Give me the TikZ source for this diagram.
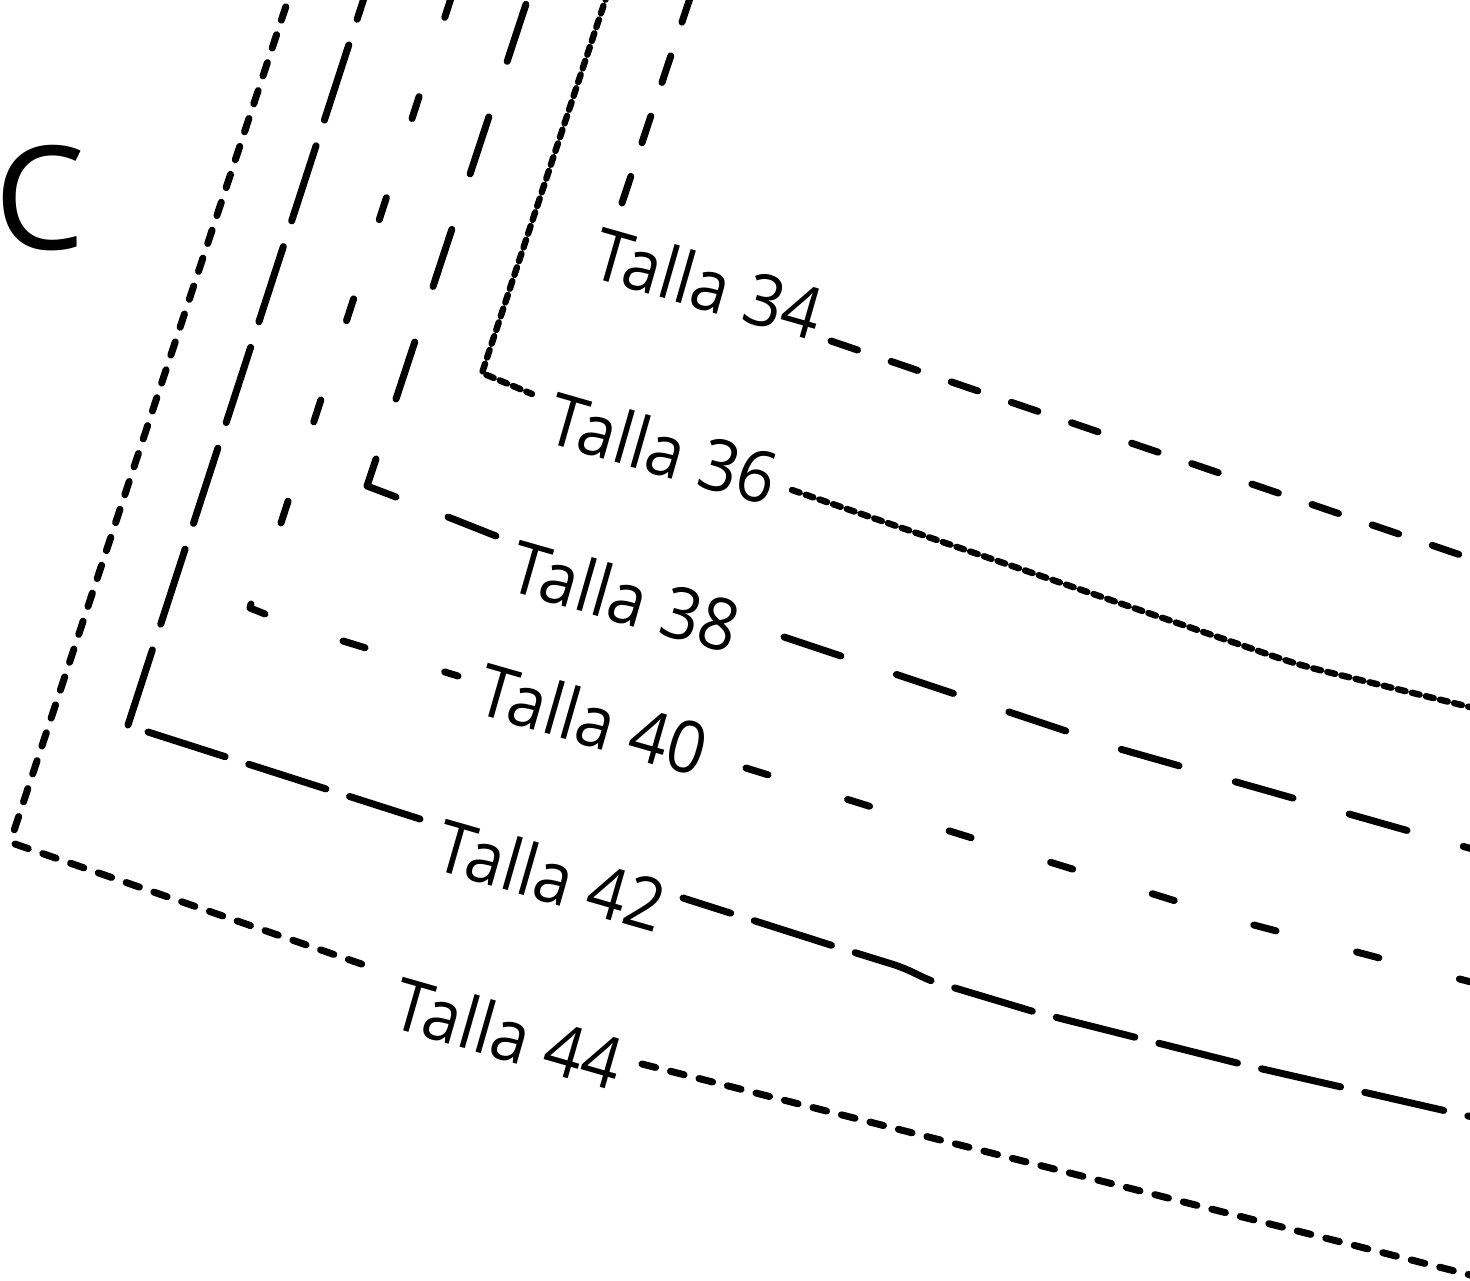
\documentclass[tikz,border=0pt]{standalone}
\usepackage{fontspec}
\setmainfont{Open Sans}
\tikzset{
	contour/.style={line width=7pt, line cap=round, line join=round},
	talla34/.style={contour, dash pattern=on 28pt off 35.5pt},
	talla36/.style={contour, line width=6.4pt, dash pattern=on 8pt off 6.5pt},
	talla38/.style={contour, dash pattern=on 60pt off 58.5pt},
	talla40/.style={contour, dash pattern=on 23pt off 83.3pt},
	talla42/.style={contour, dash pattern=on 81pt off 24.8pt},
	talla44/.style={contour, dash pattern=on 14pt off 15.4pt},
	sizelabel/.style={inner sep=0pt, rotate=-16, xscale=0.93, font=\fontsize{72}{72}\selectfont},
}
\begin{document}
\begin{tikzpicture}[x=1pt, y=-1pt]
	\useasboundingbox (0,0) rectangle (1470,1280);
	\clip (0,0) rectangle (1470,1280);

	\node[inner sep=0pt, font=\fontsize{144}{144}\selectfont] (letter) at (40,198) {C};

	\node[sizelabel] (size34) at (708,283) {Talla 34};
	\node[sizelabel] (size36) at (663,448) {Talla 36};
	\node[sizelabel] (size38) at (625,596) {Talla 38};
	\node[sizelabel] (size40) at (593,719) {Talla 40};
	\node[sizelabel] (size42) at (551,875) {Talla 42};
	\node[sizelabel] (size44) at (508,1033) {Talla 44};

	% 34
	\draw[talla34] (622,203) -- (692,-8);
	\draw[talla34] (831,341) -- (1490,565);
	% 36
	\draw[talla36] (608,-8) -- (482,373) -- (532,394);
	\draw[talla36] (792,490) -- (1270,655) .. controls (1290,662) and (1310,668) .. (1340,675) -- (1490,712);
	% 38
	\draw[talla38] (396,399) -- (530,-8);
	\draw[contour] (376,459) -- (367,486) -- (396,497);
	\draw[contour] (448,517) -- (496,536);
	\draw[talla38] (784,637) -- (1120,749) -- (1490,854);
	% 40
	\draw[talla40] (281,523) -- (453,-8);
	\draw[contour] (251,604) -- (250,608) -- (265,614);
	\draw[talla40] (343,641) -- (458,676);
	\draw[talla40] (746,768) -- (1250,924) -- (1490,987);
	% 42
	\draw[talla42, dash pattern=on 79pt off 27pt] (128,725) -- (366,-8);
	\draw[talla42] (148,732) -- (420,819);
	\draw[talla42, dash phase=31pt] (683,898) -- (840,948) -- (895,965) .. controls (915,972) and (920,977) .. (935,982) -- (1035,1012) -- (1245,1065) -- (1490,1121);
	% 44
	\draw[talla44] (14.3,829.8) -- (292,-12);
	\draw[talla44] (15,844) -- (373,968);
	\draw[talla44] (642,1064) -- (1490,1280);
\end{tikzpicture}
\end{document}
